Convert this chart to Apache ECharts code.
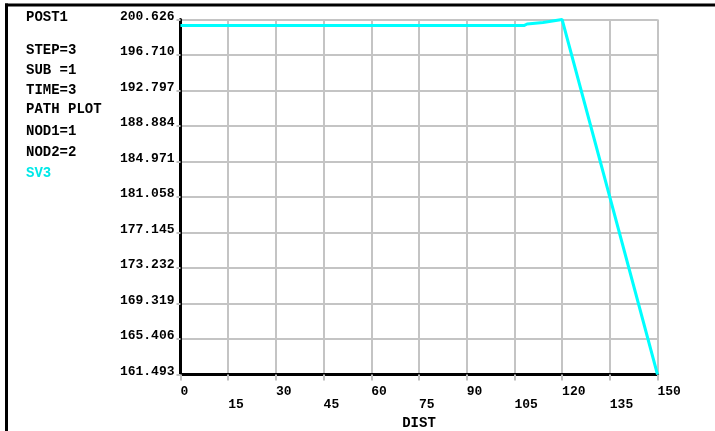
<!DOCTYPE html>
<html><head><meta charset="utf-8">
<script src="https://cdn.jsdelivr.net/npm/echarts@6/dist/echarts.min.js"></script>
<style>html,body{margin:0;padding:0;background:#fff}#c{width:715px;height:431px}</style>
</head><body><div id="c"></div>
<script>
const distValues = [0, 108, 109, 114, 120, 150];
const sv3Values = [199.96, 199.96, 200.13, 200.30, 200.626, 161.493];
const yTickLabels = ['161.493','165.406','169.319','173.232','177.145','181.058','184.971','188.884','192.797','196.710','200.626'];
const xTickLabels = ['0','15','30','45','60','75','90','105','120','135','150'];
const infoLines = ['POST1','STEP=3','SUB =1','TIME=3','PATH PLOT','NOD1=1','NOD2=2'];
const infoY = [17.5, 50.7, 70, 90, 109.3, 131, 152.7];
const seriesName = 'SV3';

const yMin = 161.493, yMax = 200.626, yStep = (yMax - yMin) / 10;
const mono = '"Liberation Mono", "DejaVu Sans Mono", monospace';

const chart = echarts.init(document.getElementById('c'));
const graphics = [
  {type:'rect', shape:{x:5, y:3.5, width:710, height:3}, style:{fill:'#000'}},
  {type:'rect', shape:{x:5, y:3.5, width:3, height:428}, style:{fill:'#000'}}
];
infoLines.forEach((t,i)=>{
  graphics.push({type:'text', left:26, top:infoY[i]-7, style:{text:t, font:'bold 14px ' + mono, fill:'#000'}});
});
graphics.push({type:'text', left:26, top:173.3-7, style:{text:seriesName, font:'bold 14px ' + mono, fill:'#00e8e8'}});

chart.setOption({
  animation:false,
  backgroundColor:'#fff',
  graphic: graphics,
  grid:{left:180.5, right:57.5, top:19.5, bottom:56.5, containLabel:false, outerBoundsMode:'none'},
  xAxis:{
    type:'value', min:0, max:150, interval:15,
    name:'DIST', nameLocation:'middle', nameGap:39,
    nameTextStyle:{fontFamily:mono, fontWeight:'bold', fontSize:14, color:'#000'},
    axisLine:{show:true, onZero:false, lineStyle:{color:'#000', width:3}},
    axisTick:{show:true, length:6, interval:(i)=>i%2===1, lineStyle:{color:'#c0c0c0', width:2}},
    axisLabel:{
      margin:11, align:'left', fontFamily:mono, fontWeight:'bold', fontSize:13, color:'#000', lineHeight:13,
      formatter:(v,i)=>{ const k=Math.round(v/15); const s=xTickLabels[k]; return k%2===1 ? '\n'+s : s; }
    },
    splitLine:{show:true, lineStyle:{color:'#c4c4c4', width:2}}
  },
  yAxis:{
    type:'value', min:yMin, max:yMax, interval:yStep,
    axisLine:{show:true, lineStyle:{color:'#000', width:3}},
    axisTick:{show:true, length:4, lineStyle:{color:'#c0c0c0', width:2}},
    axisLabel:{
      margin:6, fontFamily:mono, fontWeight:'bold', fontSize:13, color:'#000', lineHeight:6, verticalAlign:'middle',
      formatter:(v)=>{ const k=Math.round((v-yMin)/yStep); return (yTickLabels[k] || '') + '\n '; }
    },
    splitLine:{show:true, lineStyle:{color:'#c4c4c4', width:2}}
  },
  series:[{
    name:seriesName, type:'line', showSymbol:false, z:5,
    lineStyle:{color:'#00ffff', width:3},
    data: distValues.map((d,i)=>[d, sv3Values[i]])
  }]
});
</script></body></html>
